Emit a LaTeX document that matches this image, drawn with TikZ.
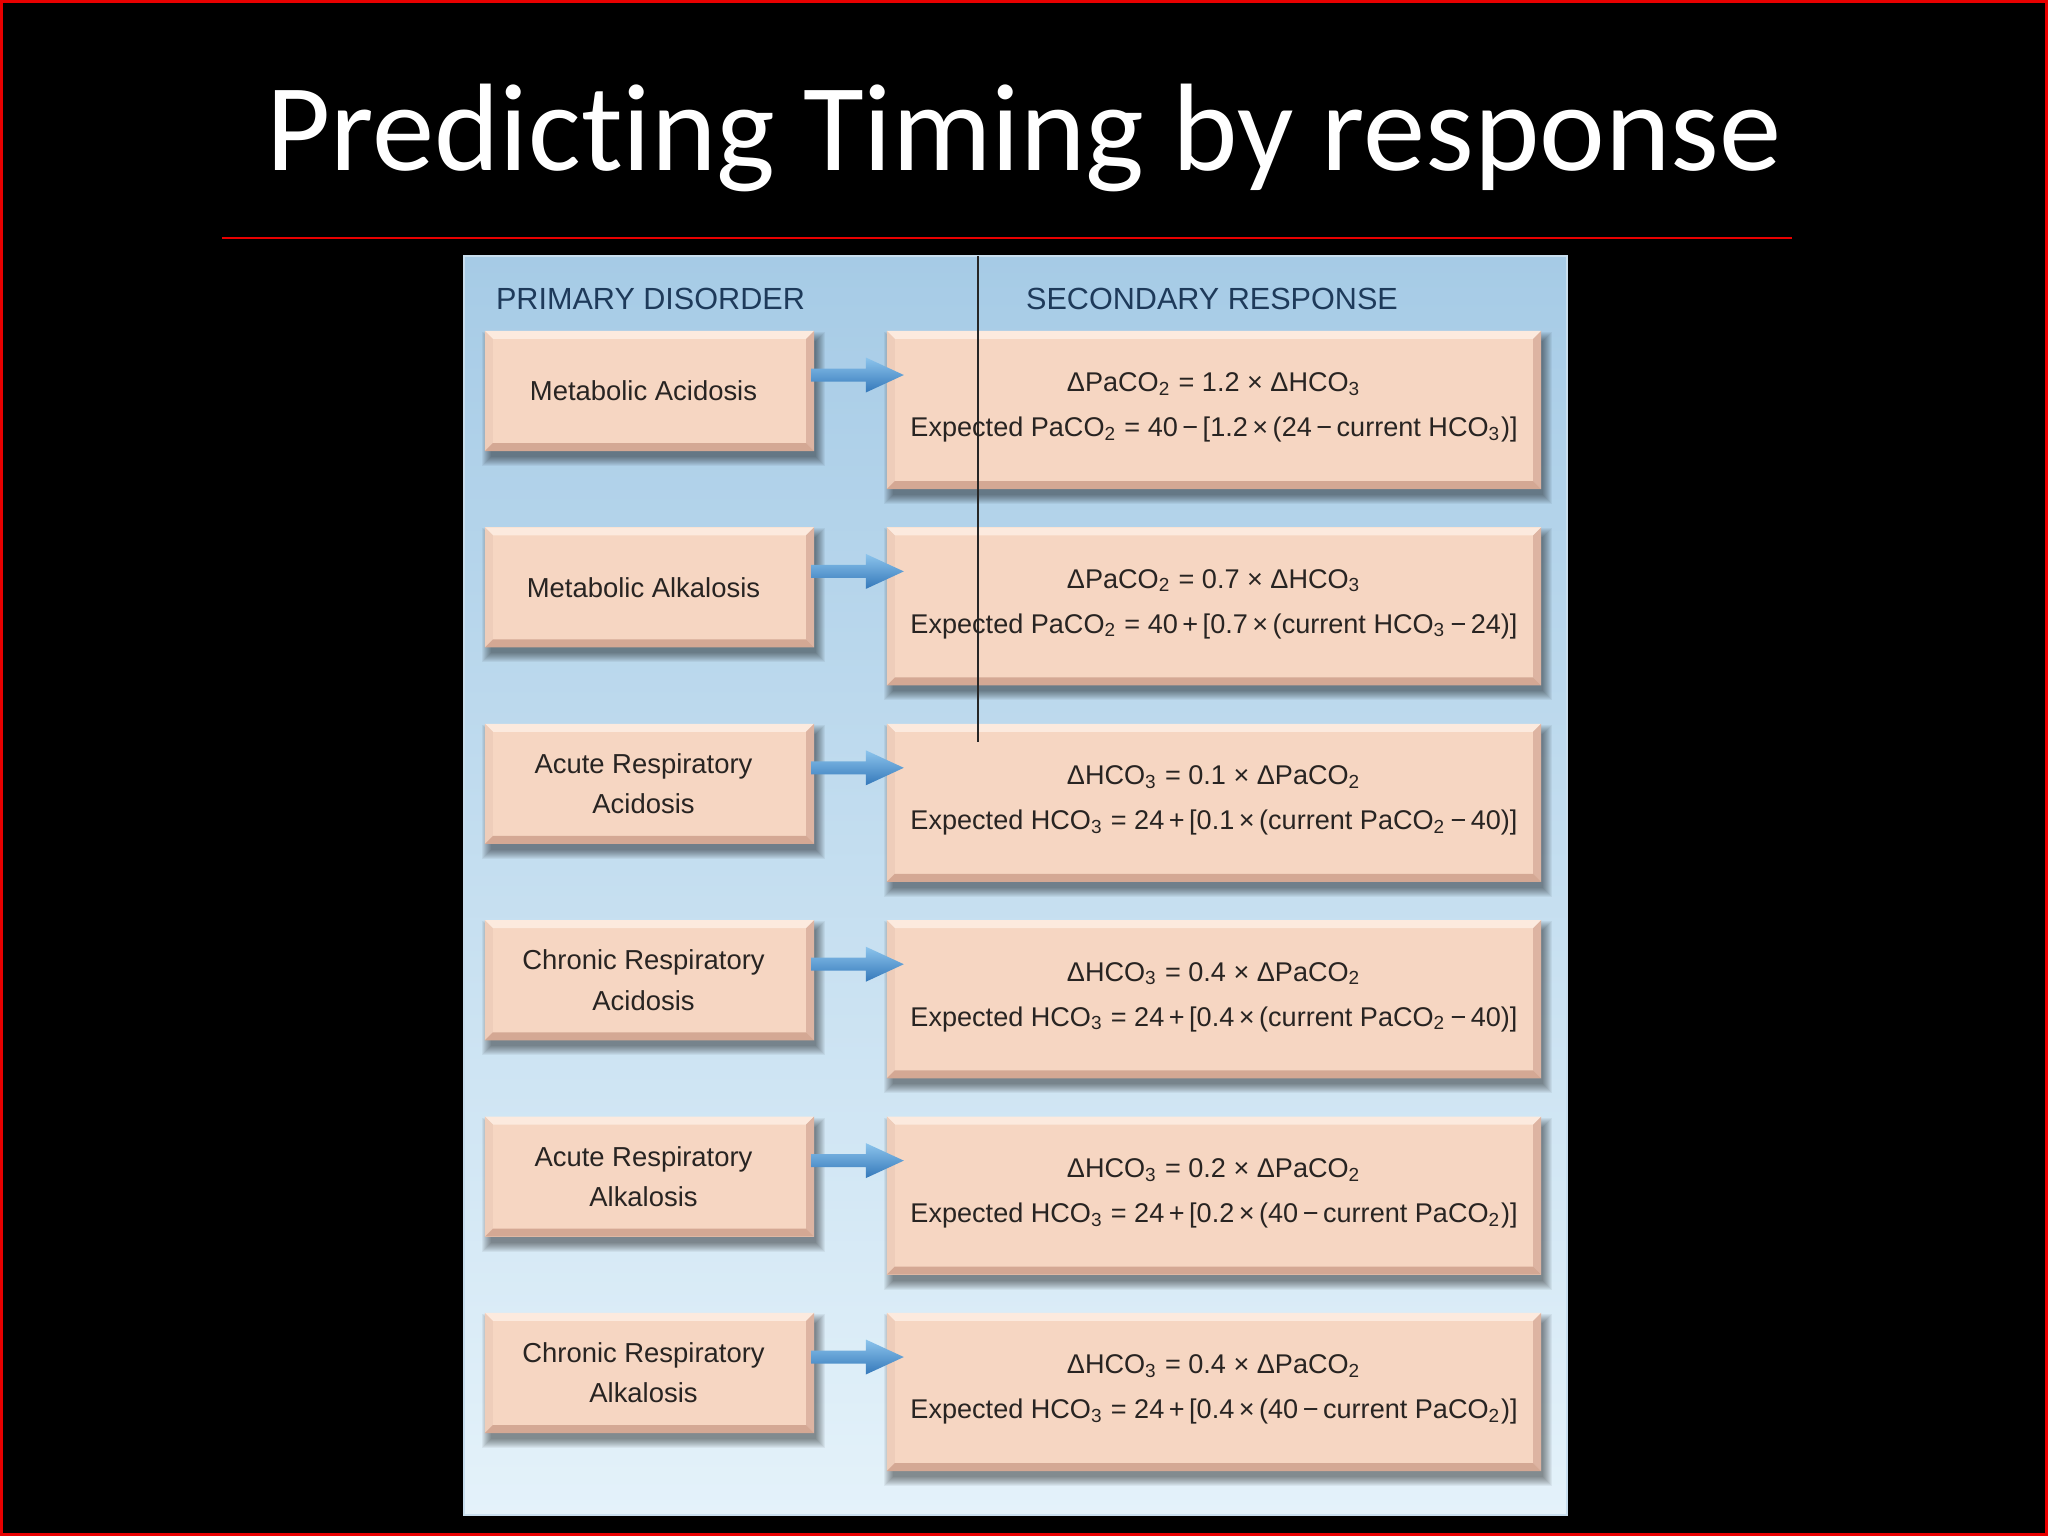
\documentclass[tikz,border=0pt]{standalone}
\usepackage{fontspec}
\setmainfont{Liberation Sans}
\newfontfamily\titlefont[Ligatures=NoCommon]{Carlito}
\usetikzlibrary{calc}
\pgfdeclarelayer{bg}
\pgfdeclarelayer{shd}
\pgfsetlayers{bg,shd,main}
\definecolor{peach}{RGB}{246,214,194}
\definecolor{bvtopc}{RGB}{252,234,222}
\definecolor{bvleftc}{RGB}{238,205,186}
\definecolor{bvrightc}{RGB}{221,180,162}
\definecolor{bvbotc}{RGB}{212,168,148}
\definecolor{paneltop}{RGB}{166,203,230}
\definecolor{panelbot}{RGB}{228,242,250}
\definecolor{panelrim}{RGB}{200,222,238}
\definecolor{hdr}{RGB}{30,58,90}
\definecolor{txt}{RGB}{40,36,34}
\definecolor{arrtop}{RGB}{140,196,236}
\definecolor{arrbot}{RGB}{52,120,186}
\definecolor{slidered}{RGB}{232,0,0}
\newcommand\sbs[1]{\textsubscript{#1}}
\newcommand\bw{8}
\newcommand\bevel[1]{%
  \fill[bvtopc] (#1.north west) -- (#1.north east) -- ($(#1.north east)+(-\bw,\bw)$) -- ($(#1.north west)+(\bw,\bw)$) -- cycle;
  \fill[bvleftc] (#1.north west) -- (#1.south west) -- ($(#1.south west)+(\bw,-\bw)$) -- ($(#1.north west)+(\bw,\bw)$) -- cycle;
  \fill[bvrightc] (#1.north east) -- (#1.south east) -- ($(#1.south east)+(-\bw,-\bw)$) -- ($(#1.north east)+(-\bw,\bw)$) -- cycle;
  \fill[bvbotc] (#1.south west) -- (#1.south east) -- ($(#1.south east)+(-\bw,-\bw)$) -- ($(#1.south west)+(\bw,-\bw)$) -- cycle;
  \begin{pgfonlayer}{shd}
    \foreach \k in {0,...,9}{%
      \fill[black, opacity=0.05] ($(#1.north west)+(6-\k,10-\k)$) rectangle ($(#1.south east)+(2+\k,6+\k)$);
    }
  \end{pgfonlayer}
}
\newcommand\drawrow[5]{%
  \node[lbox] (L#1) at (649.5,#2+60) {};
  \bevel{L#1}
  \node[ltext] (L#1t) at ($(L#1.center)+(-6,0)$) {#3};
  \node[rbox] (R#1) at (1214,#2+79) {};
  \bevel{R#1}
  \node[rtext] (R#1a) at ($(R#1.north)+(0,61)$) {#4};
  \node[rtext] (R#1b) at ($(R#1.north)+(0,106)$) {#5};
  \coordinate (a#1) at ($(L#1.east)+(-3,-16)$);
  \coordinate (t#1) at ($(a#1 -| R#1.west)+(17,0)$);
  \coordinate (h#1) at ($(t#1)+(-38,0)$);
  \shade[top color=arrtop, bottom color=arrbot]
    ($(a#1)+(0,-6.5)$) -- ($(h#1)+(0,-6.5)$) -- ($(h#1)+(0,-17.5)$) -- (t#1)
    -- ($(h#1)+(0,17.5)$) -- ($(h#1)+(0,6.5)$) -- ($(a#1)+(0,6.5)$) -- cycle;
}
\begin{document}
\begin{tikzpicture}[x=0.01cm,y=-0.01cm,
  lbox/.style={rectangle, fill=peach, minimum width=3.29cm, minimum height=1.2cm, inner sep=0pt, outer sep=0pt},
  rbox/.style={rectangle, fill=peach, minimum width=6.54cm, minimum height=1.58cm, inner sep=0pt, outer sep=0pt},
  ltext/.style={align=center, inner sep=0pt, text=txt, font=\fontsize{7.8}{11.4}\selectfont},
  rtext/.style={anchor=base, inner sep=0pt, text=txt, font=\fontsize{7.7}{10}\selectfont},
  hdrtext/.style={anchor=base, inner sep=0pt, text=hdr, font=\fontsize{8.7}{10}\selectfont}]
\useasboundingbox (0,0) rectangle (2048,1536);
\begin{pgfonlayer}{bg}
\fill[black] (0,0) rectangle (2048,1536);
\shade[top color=paneltop, bottom color=panelbot] (464,256) rectangle (1567,1515);
\draw[panelrim, line width=0.4pt] (464,256) rectangle (1567,1515);
\end{pgfonlayer}
\draw[slidered, line width=0.85pt] (1.5,1.5) rectangle (2046.5,1534.5);
\node[anchor=base, inner sep=0pt, text=white, font=\titlefont\fontsize{35.4}{40}\selectfont] (title) at (1024,170) {Predicting Timing by response};
\draw[slidered, line width=0.8pt] (222,238) -- (1792,238);
\node[hdrtext] (h1) at (650.5,309) {PRIMARY DISORDER};
\node[hdrtext] (h2) at (1212,309) {SECONDARY RESPONSE};
\drawrow{1}{331}{Metabolic Acidosis}{ΔPaCO\sbs{2} = 1.2 × ΔHCO\sbs{3}}{Expected PaCO\sbs{2} = 40\,−\,[1.2\,×\,(24\,−\,current HCO\sbs{3})]}
\drawrow{2}{527.4}{Metabolic Alkalosis}{ΔPaCO\sbs{2} = 0.7 × ΔHCO\sbs{3}}{Expected PaCO\sbs{2} = 40\,+\,[0.7\,×\,(current HCO\sbs{3}\,−\,24)]}
\drawrow{3}{723.8}{Acute Respiratory\\Acidosis}{ΔHCO\sbs{3} = 0.1 × ΔPaCO\sbs{2}}{Expected HCO\sbs{3} = 24\,+\,[0.1\,×\,(current PaCO\sbs{2}\,−\,40)]}
\drawrow{4}{920.2}{Chronic Respiratory\\Acidosis}{ΔHCO\sbs{3} = 0.4 × ΔPaCO\sbs{2}}{Expected HCO\sbs{3} = 24\,+\,[0.4\,×\,(current PaCO\sbs{2}\,−\,40)]}
\drawrow{5}{1116.6}{Acute Respiratory\\Alkalosis}{ΔHCO\sbs{3} = 0.2 × ΔPaCO\sbs{2}}{Expected HCO\sbs{3} = 24\,+\,[0.2\,×\,(40\,−\,current PaCO\sbs{2})]}
\drawrow{6}{1313}{Chronic Respiratory\\Alkalosis}{ΔHCO\sbs{3} = 0.4 × ΔPaCO\sbs{2}}{Expected HCO\sbs{3} = 24\,+\,[0.4\,×\,(40\,−\,current PaCO\sbs{2})]}
\draw[black!85, line width=0.6pt] (978,256) -- (978,742);
\end{tikzpicture}
\end{document}
